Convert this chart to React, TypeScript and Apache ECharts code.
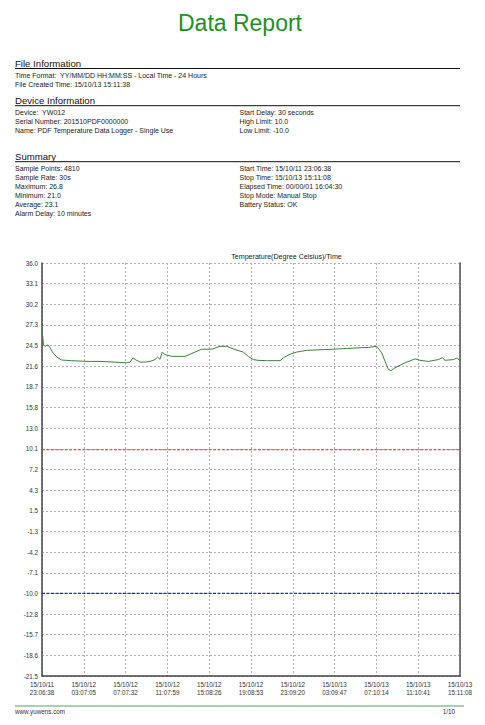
import React, { useEffect, useRef } from "react";
import * as echarts from "echarts";

const reportTitle = "Data Report";
const chartTitle = "Temperature(Degree Celsius)/Time";
const fileInfoLines = [
  "Time Format:  YY/MM/DD HH:MM:SS - Local Time - 24 Hours",
  "File Created Time: 15/10/13 15:11:38",
];
const deviceLeft = [
  "Device:  YW012",
  "Serial Number: 201510PDF0000000",
  "Name: PDF Temperature Data Logger - Single Use",
];
const deviceRight = ["Start Delay: 30 seconds", "High Limit: 10.0", "Low Limit: -10.0"];
const summaryLeft = [
  "Sample Points: 4810",
  "Sample Rate: 30s",
  "Maximum: 26.8",
  "Minimum: 21.0",
  "Average: 23.1",
  "Alarm Delay: 10 minutes",
];
const summaryRight = [
  "Start Time: 15/10/11 23:06:38",
  "Stop Time: 15/10/13 15:11:08",
  "Elapsed Time: 00/00/01 16:04:30",
  "Stop Mode: Manual Stop",
  "Battery Status: OK",
];
const footerSite = "www.yuwens.com";
const footerPage = "1/10";

const xTickDates = [
  "15/10/11", "15/10/12", "15/10/12", "15/10/12", "15/10/12", "15/10/12",
  "15/10/12", "15/10/13", "15/10/13", "15/10/13", "15/10/13",
];
const xTickTimes = [
  "23:06:38", "03:07:05", "07:07:32", "11:07:59", "15:08:26", "19:08:53",
  "23:09:20", "03:09:47", "07:10:14", "11:10:41", "15:11:08",
];
const xTotalSeconds = 144270;
const xIntervalSeconds = 14427;

const yTickLabels = [
  "-21.5", "-18.6", "-15.7", "-12.8", "-10.0", "-7.1", "-4.2", "-1.3", "1.5", "4.3",
  "7.2", "10.1", "13.0", "15.8", "18.7", "21.6", "24.5", "27.3", "30.2", "33.1", "36.0",
];
const yMin = -21.5;
const yMax = 36;
const yInterval = 2.875;

const highLimit = 10.0;
const lowLimit = -10.0;

// [elapsed hours, temperature °C]
const readings: [number, number][] = [
  [0, 26.8], [0.05, 26.0], [0.15, 24.6], [0.28, 24.4], [0.58, 24.6], [0.77, 24.2], [1.05, 23.5],
  [1.44, 22.9], [1.85, 22.5], [2.81, 22.4], [4.41, 22.3], [5.56, 22.3], [6.97, 22.2],
  [8.08, 22.1], [8.44, 22.2], [8.72, 22.8], [9.01, 22.5], [9.4, 22.2], [9.88, 22.2],
  [10.35, 22.3], [10.83, 22.55], [11.09, 22.9], [11.31, 22.6], [11.53, 23.6], [11.79, 23.25],
  [12.44, 23.0], [13.71, 23.0], [14.67, 23.6], [15.31, 24.0], [16.27, 24.0], [17.07, 24.4],
  [17.71, 24.4], [18.5, 23.95], [19.3, 23.6], [19.78, 23.0], [20.26, 22.55], [20.71, 22.45],
  [21.54, 22.4], [22.82, 22.4], [23.14, 22.8], [23.78, 23.3], [24.42, 23.6], [25.38, 23.85],
  [26.34, 23.9], [27.93, 24.0], [29.21, 24.1], [30.49, 24.2], [31.29, 24.25], [32.09, 24.4],
  [32.57, 23.5], [32.89, 22.3], [33.2, 21.2], [33.46, 21.0], [33.84, 21.4], [34.8, 22.1],
  [35.76, 22.65], [36.24, 22.45], [37.04, 22.3], [37.99, 22.55], [38.38, 22.8], [38.64, 22.45],
  [39.43, 22.55], [39.76, 22.75], [40.075, 22.45],
];

const FONT = "Liberation Sans, Arial, Helvetica, sans-serif";

function txt(text: string, x: number, y: number, size: number, color: string, align = "left") {
  return {
    type: "text",
    x,
    y,
    silent: true,
    style: {
      text,
      font: `${size}px ${FONT}`,
      fill: color,
      align,
      verticalAlign: "middle",
      textAlign: align,
      textVerticalAlign: "middle",
    },
  };
}

function hline(x1: number, x2: number, y: number, color: string, w = 1) {
  return {
    type: "line",
    silent: true,
    shape: { x1, y1: y, x2, y2: y },
    style: { stroke: color, lineWidth: w },
  };
}

export default function App() {
  const ref = useRef<HTMLDivElement>(null);

  useEffect(() => {
    if (!ref.current) return;
    const chart = echarts.init(ref.current, undefined, { renderer: "svg" });

    const bodyColor = "#222";
    const headColor = "#111";
    const graphics: any[] = [];
    graphics.push(txt(reportTitle, 240, 23, 23, "#1f8f1f", "center"));

    graphics.push(txt("File Information", 15, 63, 9.6, headColor));
    graphics.push(hline(15, 460, 68.5, "#111"));
    fileInfoLines.forEach((t, i) => graphics.push(txt(t, 15, 75 + i * 9.3, 7, bodyColor)));

    graphics.push(txt("Device Information", 15, 100.5, 9.6, headColor));
    graphics.push(hline(15, 460, 105.7, "#111"));
    deviceLeft.forEach((t, i) => graphics.push(txt(t, 15, 112.3 + i * 9, 7, bodyColor)));
    deviceRight.forEach((t, i) => graphics.push(txt(t, 239.5, 112.3 + i * 9, 7, bodyColor)));

    graphics.push(txt("Summary", 15, 156.7, 9.6, headColor));
    graphics.push(hline(15, 460, 161.7, "#111"));
    summaryLeft.forEach((t, i) => graphics.push(txt(t, 15, 168 + i * 9.05, 7, bodyColor)));
    summaryRight.forEach((t, i) => graphics.push(txt(t, 239.5, 168 + i * 9.05, 7, bodyColor)));

    graphics.push(txt(chartTitle, 286.5, 256.7, 7.1, "#222", "center"));

    graphics.push(hline(15, 464, 706, "#45a565", 1));
    graphics.push(txt(footerSite, 15, 711, 6.3, "#333"));
    graphics.push(txt(footerPage, 455, 711, 6.3, "#333", "right"));

    const splitStyle = { show: true, lineStyle: { color: "#b0b0b0", type: [2, 2], width: 1 } };

    chart.setOption({
      animation: false,
      backgroundColor: "#fff",
      grid: { left: 42, top: 263, width: 418, height: 413, containLabel: false },
      xAxis: {
        type: "value",
        min: 0,
        max: xTotalSeconds,
        interval: xIntervalSeconds,
        axisLine: { show: true, onZero: false, lineStyle: { color: "#444", width: 1.5 } },
        axisTick: { show: false },
        splitLine: splitStyle,
        axisLabel: {
          margin: 4,
          fontSize: 6.3,
          fontFamily: FONT,
          color: "#333",
          lineHeight: 8.3,
          showMinLabel: true,
          showMaxLabel: true,
          hideOverlap: false,
          formatter: (v: number) => {
            const i = Math.round(v / xIntervalSeconds);
            return xTickDates[i] !== undefined ? `${xTickDates[i]}\n${xTickTimes[i]}` : "";
          },
        },
      },
      yAxis: [
        {
          type: "value",
          min: yMin,
          max: yMax,
          interval: yInterval,
          position: "left",
          axisLine: { show: true, onZero: false, lineStyle: { color: "#444", width: 1.5 } },
          axisTick: { show: false },
          splitLine: splitStyle,
          axisLabel: {
            margin: 4,
            fontSize: 6.3,
            fontFamily: FONT,
            color: "#333",
            showMinLabel: true,
            showMaxLabel: true,
            formatter: (v: number) => {
              const i = Math.round((v - yMin) / yInterval);
              return yTickLabels[i] ?? "";
            },
          },
        },
        {
          type: "value",
          min: yMin,
          max: yMax,
          interval: yInterval,
          position: "right",
          axisLine: { show: true, onZero: false, lineStyle: { color: "#555", width: 1.5 } },
          axisTick: { show: false },
          axisLabel: { show: false },
          splitLine: { show: false },
        },
      ],
      graphic: graphics,
      series: [
        {
          name: "High Limit",
          type: "line",
          yAxisIndex: 0,
          showSymbol: false,
          symbol: "none",
          silent: true,
          lineStyle: { color: "#f03048", type: [3, 1.5], width: 1.2 },
          itemStyle: { color: "#f03048" },
          data: [[0, highLimit], [xTotalSeconds, highLimit]],
        },
        {
          name: "Low Limit",
          type: "line",
          yAxisIndex: 0,
          showSymbol: false,
          symbol: "none",
          silent: true,
          lineStyle: { color: "#2a2ab8", type: [3, 1.5], width: 1.2 },
          itemStyle: { color: "#2a2ab8" },
          data: [[0, lowLimit], [xTotalSeconds, lowLimit]],
        },
        {
          name: "Temperature",
          type: "line",
          yAxisIndex: 0,
          showSymbol: false,
          symbol: "none",
          lineStyle: { color: "#3f7f3f", width: 1 },
          itemStyle: { color: "#3f7f3f" },
          data: readings.map(([h, t]) => [h * 3600, t]),
        },
      ],
    });

    return () => chart.dispose();
  }, []);

  return (
    <div
      ref={ref}
      style={{ position: "absolute", left: 0, top: 0, width: 485, height: 725, background: "#fff" }}
    />
  );
}
